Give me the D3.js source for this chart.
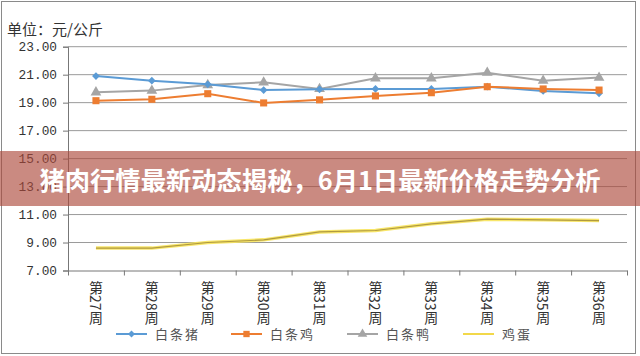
<!DOCTYPE html>
<html><head><meta charset="utf-8">
<script src="https://cdn.jsdelivr.net/npm/d3@7"></script>
<style>
html,body{margin:0;padding:0;background:#fff;}
svg{display:block;}
</style></head>
<body>
<svg id="c" width="640" height="356"></svg>
<script>
const weeks = ["第27周","第28周","第29周","第30周","第31周","第32周","第33周","第34周","第35周","第36周"];
const pork    = [20.90,20.57,20.31,19.90,19.95,19.98,19.98,20.14,19.84,19.67];
const chicken = [19.14,19.24,19.64,18.98,19.20,19.48,19.71,20.14,19.98,19.90];
const duck    = [19.74,19.86,20.26,20.45,19.98,20.74,20.74,21.14,20.57,20.79];
const egg     = [8.60,8.60,9.00,9.19,9.76,9.86,10.34,10.67,10.62,10.57];
const yTicks  = [7,9,11,13,15,17,19,21,23];
const seriesNames = ["白条猪","白条鸡","白条鸭","鸡蛋"];
const unitLabel = "单位：元/公斤";
const titleText = "猪肉行情最新动态揭秘，6月1日最新价格走势分析";

const svg = d3.select("#c");
const L = 68, R = 627, T = 46.7, B = 270.5;
const x = d3.scaleBand().domain(weeks).range([L, R]);
const y = d3.scaleLinear().domain([7, 23]).range([B, T]);
const cx = d => x(d) + x.bandwidth() / 2;

// outer frame
svg.append("rect").attr("x", 1.5).attr("y", 1.5).attr("width", 634).attr("height", 352)
  .attr("fill", "#fff").attr("stroke", "#8a8a8a").attr("stroke-width", 1);

// unit label
svg.append("text").attr("x", 7).attr("y", 35).text(unitLabel)
  .attr("font-family", "Noto Sans CJK SC").attr("font-size", 15).attr("fill", "#333");

// gridlines
svg.append("g").selectAll("line").data(yTicks.filter(v => v !== 7)).join("line")
  .attr("x1", L).attr("x2", R).attr("y1", d => y(d)).attr("y2", d => y(d))
  .attr("stroke", "#9a9a9a").attr("stroke-width", 1);

// y axis
const ya = svg.append("g").attr("transform", `translate(${L},0)`)
  .call(d3.axisLeft(y).tickValues(yTicks).tickFormat(d3.format(".2f")).tickSize(5).tickPadding(6));
ya.select(".domain").attr("stroke", "#777");
ya.selectAll(".tick line").attr("stroke", "#777");
ya.selectAll("text").attr("font-family", "Liberation Mono").attr("font-size", 12.8).attr("fill", "#333");

// x axis (ticks at band boundaries)
const xb = d3.scaleLinear().domain([0, weeks.length]).range([L, R]);
const xa = svg.append("g").attr("transform", `translate(0,${B})`)
  .call(d3.axisBottom(xb).tickValues(d3.range(weeks.length + 1)).tickFormat("").tickSize(5).tickSizeOuter(0));
xa.select(".domain").attr("stroke", "#777");
xa.selectAll(".tick line").attr("stroke", "#777");

// vertical x labels
svg.append("g").selectAll("text").data(weeks).join("text")
  .attr("x", d => cx(d)).attr("y", 281)
  .attr("writing-mode", "vertical-rl")
  .style("writing-mode", "vertical-rl")
  .attr("font-family", "Noto Sans CJK SC").attr("font-size", 14).attr("fill", "#333")
  .text(d => d);

const line = d3.line().x((d, i) => cx(weeks[i])).y(d => y(d));

// egg (yellow glow + olive core)
svg.append("path").datum(egg).attr("d", line).attr("fill", "none")
  .attr("stroke", "#f7e35a").attr("stroke-width", 3.5).attr("opacity", 0.9);
svg.append("path").datum(egg).attr("d", line).attr("fill", "none")
  .attr("stroke", "#b09a40").attr("stroke-width", 1.2);

// duck (gray, triangles)
svg.append("path").datum(duck).attr("d", line).attr("fill", "none")
  .attr("stroke", "#a5a5a5").attr("stroke-width", 2);
svg.append("g").selectAll("path").data(duck).join("path")
  .attr("transform", (d, i) => `translate(${cx(weeks[i])},${y(d)})`)
  .attr("d", d3.symbol(d3.symbolTriangle, 50)).attr("fill", "#a5a5a5");

// pork (blue, diamonds)
svg.append("path").datum(pork).attr("d", line).attr("fill", "none")
  .attr("stroke", "#5b9bd5").attr("stroke-width", 2);
svg.append("g").selectAll("path").data(pork).join("path")
  .attr("transform", (d, i) => `translate(${cx(weeks[i])},${y(d)}) rotate(45)`)
  .attr("d", d3.symbol(d3.symbolSquare, 30)).attr("fill", "#5b9bd5");

// chicken (orange, squares)
svg.append("path").datum(chicken).attr("d", line).attr("fill", "none")
  .attr("stroke", "#ed7d31").attr("stroke-width", 2);
svg.append("g").selectAll("path").data(chicken).join("path")
  .attr("transform", (d, i) => `translate(${cx(weeks[i])},${y(d)})`)
  .attr("d", d3.symbol(d3.symbolSquare, 50)).attr("fill", "#ed7d31");

// legend
const legX = [116, 231, 347, 463];
const legColors = ["#5b9bd5", "#ed7d31", "#a5a5a5", "#f2d84a"];
const legSym = [d3.symbolSquare, d3.symbolSquare, d3.symbolTriangle, null];
const ly = 334;
const lg = svg.append("g");
seriesNames.forEach((n, i) => {
  lg.append("line").attr("x1", legX[i]).attr("x2", legX[i] + 31).attr("y1", ly).attr("y2", ly)
    .attr("stroke", legColors[i]).attr("stroke-width", 2);
  if (legSym[i]) {
    lg.append("path").attr("transform", `translate(${legX[i] + 15.5},${ly})` + (i === 0 ? " rotate(45)" : ""))
      .attr("d", d3.symbol(legSym[i], i === 0 ? 25 : 40)).attr("fill", legColors[i]);
  }
  lg.append("text").attr("x", legX[i] + 39).attr("y", ly).attr("dy", "0.35em")
    .attr("font-family", "Noto Sans CJK SC").attr("font-size", 13).attr("fill", "#555")
    .attr("letter-spacing", 2).text(n);
});

// title banner
svg.append("rect").attr("x", 0).attr("y", 151).attr("width", 640).attr("height", 55)
  .attr("fill", "rgb(172,72,58)").attr("opacity", 0.64);
svg.append("text").attr("x", 320).attr("y", 178.5).attr("text-anchor", "middle")
  .attr("dominant-baseline", "central")
  .attr("font-family", "Noto Sans CJK SC").attr("font-weight", "bold").attr("font-size", 25.3)
  .attr("fill", "#fff").text(titleText);
</script>
</body></html>
